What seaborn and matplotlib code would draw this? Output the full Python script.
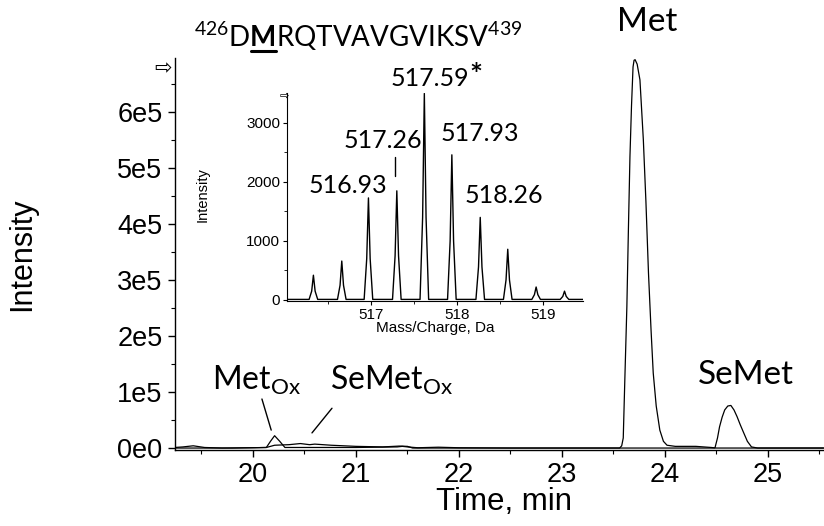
import numpy as np
import pandas as pd
import matplotlib
matplotlib.use("Agg")
import matplotlib.pyplot as plt
import seaborn as sns

# --- chromatogram (time in min, intensity in counts) ---
met_time = [19.24, 19.32, 19.42, 19.53, 19.70, 20.00, 20.13, 20.17, 20.21,
            20.26, 20.31, 20.50, 21.00, 21.40, 21.45, 21.50, 21.60, 21.80,
            22.00, 22.50, 23.00, 23.40, 23.56, 23.58, 23.595, 23.61, 23.63,
            23.645, 23.66, 23.675, 23.69, 23.70, 23.71, 23.73, 23.757, 23.79,
            23.815, 23.84, 23.865, 23.886, 23.915, 23.95, 23.985, 24.02,
            24.10, 24.30, 24.45, 24.50, 25.00, 25.54]
met_int = [1e3, 2e3, 4e3, 1e3, 0, 5e2, 1e3, 1.2e4, 2.2e4,
           1.2e4, 1e3, 1e3, 1e3, 2e3, 3e3, 2e3, 5e2, 1.5e3,
           5e2, 0, 0, 0, 0, 4e3, 1.8e4, 1.2e5, 2.52e5,
           3.9e5, 5.2e5, 6.1e5, 6.8e5, 6.92e5, 6.93e5, 6.85e5, 6.57e5, 5.5e5,
           4.4e5, 3.12e5, 2.1e5, 1.34e5, 7.5e4, 3.2e4, 1.2e4, 5e3,
           3e3, 3e3, 1e3, 0, 0, 0]

semet_time = [19.24, 19.80, 20.13, 20.21, 20.35, 20.46, 20.55, 20.60, 20.76,
              21.00, 21.26, 21.42, 21.50, 21.55, 22.00, 23.00, 24.00, 24.485,
              24.51, 24.53, 24.555, 24.58, 24.61, 24.64, 24.67, 24.70, 24.73,
              24.76, 24.80, 24.84, 24.90, 25.54]
semet_int = [0, 0, 1e3, 5e3, 6e3, 8e3, 6e3, 7e3, 5e3,
             3e3, 2e3, 3.5e3, 3e3, 0, 0, 0, 0, 0,
             1.8e4, 3.8e4, 5.5e4, 6.8e4, 7.5e4, 7.6e4, 6.8e4, 5.6e4, 4.2e4,
             2.9e4, 1.2e4, 2e3, 0, 0]

# --- inset mass spectrum profile ---
mz = [516.02, 516.28, 516.31, 516.33, 516.35, 516.38, 516.61, 516.64, 516.66,
      516.68, 516.71, 516.92, 516.95, 516.97, 516.99, 517.02, 517.25, 517.28,
      517.30, 517.32, 517.35, 517.57, 517.60, 517.62, 517.64, 517.67, 517.89,
      517.92, 517.94, 517.96, 517.99, 518.22, 518.25, 518.27, 518.29, 518.32,
      518.54, 518.57, 518.59, 518.61, 518.64, 518.87, 518.90, 518.92, 518.94,
      518.97, 519.20, 519.23, 519.25, 519.27, 519.30, 519.47]
mz_int = [10, 10, 150, 420, 150, 10, 10, 250, 660, 250, 10, 10, 700, 1730,
          700, 10, 10, 750, 1850, 750, 10, 10, 1400, 3500, 1400, 10, 10, 1000,
          2460, 1000, 10, 10, 560, 1400, 560, 10, 10, 340, 860, 340, 10, 10,
          90, 220, 90, 10, 10, 60, 150, 60, 10, 10]

main_yticks = [0, 1e5, 2e5, 3e5, 4e5, 5e5, 6e5]
main_ylabels = ["0e0", "1e5", "2e5", "3e5", "4e5", "5e5", "6e5"]
main_xticks = [20, 21, 22, 23, 24, 25]
inset_xticks = [517, 518, 519]
inset_yticks = [0, 1000, 2000, 3000]

peak_labels = ["516.93", "517.26", "517.59", "517.93", "518.26"]
peak_label_x = [516.733, 517.14, 517.686, 518.267, 518.547]
peak_label_y = [1932, 2695, 3746, 2814, 1763]

sns.set_theme(style="ticks")
plt.rcParams["font.family"] = ["Liberation Sans", "DejaVu Sans"]
plt.rcParams["mathtext.fontset"] = "custom"
plt.rcParams["mathtext.rm"] = "Lato"
plt.rcParams["mathtext.bf"] = "Lato:bold"
plt.rcParams["mathtext.it"] = "Lato:italic"
plt.rcParams["text.color"] = "black"
for k in ["xtick", "ytick"]:
    plt.rcParams[f"{k}.color"] = "black"
    plt.rcParams[f"{k}.labelcolor"] = "black"
    plt.rcParams[f"{k}.direction"] = "out"

W, H = 824, 526
fig = plt.figure(figsize=(W / 100, H / 100), dpi=100)
fig.patch.set_facecolor("white")


def fx(px):
    return px / W


def fy(py):
    return 1 - py / H


ax = fig.add_axes([fx(175), fy(450), fx(824) - fx(175), fy(58) - fy(450)])
sns.lineplot(x=met_time, y=met_int, ax=ax, color="black", lw=0.9,
             sort=False, estimator=None)
sns.lineplot(x=semet_time, y=semet_int, ax=ax, color="black", lw=0.9,
             sort=False, estimator=None)
ax.set_xlim(19.243, 25.544)
ax.set_ylim(-3500, 6.96e5)
ax.set_xticks(main_xticks)
ax.set_xticks(np.arange(19.5, 25.6, 1.0), minor=True)
ax.set_yticks(main_yticks, main_ylabels)
ax.set_yticks(np.arange(0.5e5, 6.6e5, 1e5), minor=True)
ax.tick_params(labelsize=19.5, width=1, length=5, pad=4)
ax.tick_params(which="minor", width=0.8, length=3)
sns.despine(ax=ax)
for s in ["left", "bottom"]:
    ax.spines[s].set_color("black")
    ax.spines[s].set_linewidth(1)
ax.set_xlabel("")
ax.set_ylabel("")
ax.set_facecolor("white")

fig.text(fx(22), fy(254), "Intensity", rotation=90, ha="center",
         va="center", fontsize=22)
fig.text(fx(504), fy(502), "Time, min", ha="center", va="center",
         fontsize=22.5)

lato = ["Lato", "DejaVu Sans"]
ax.text(23.825, 7.6e5, "Met", ha="center", va="center", fontsize=24,
        family=lato, clip_on=False)
ax.text(24.786, 1.30e5, "SeMet", ha="center", va="center", fontsize=24,
        family=lato)
ax.text(20.04, 1.21e5, r"Met$_{\mathrm{Ox}}$", ha="center", va="center",
        fontsize=23, family=lato)
ax.text(21.35, 1.21e5, r"SeMet$_{\mathrm{Ox}}$", ha="center", va="center",
        fontsize=23, family=lato)
ax.plot([20.087, 20.177], [0.875e5, 0.32e5], color="black", lw=1)
ax.plot([20.767, 20.573], [0.71e5, 0.27e5], color="black", lw=1)
fig.text(fx(163), fy(68), "\u21e8", ha="center", va="center", fontsize=15,
         family="DejaVu Sans")

# title with underlined bold M
title = r"$\mathrm{^{426}D\mathbf{M}RQTVAVGVIKSV^{439}}$"
tx, ty = fx(194), fy(47)
fs_title = 20
t = fig.text(tx, ty, title, ha="left", va="baseline", fontsize=fs_title)
pre = fig.text(tx, ty, r"$\mathrm{^{426}D}$", ha="left", va="baseline",
               fontsize=fs_title, alpha=0)
pm = fig.text(tx, ty, r"$\mathrm{^{426}D\mathbf{M}}$", ha="left",
              va="baseline", fontsize=fs_title, alpha=0)
r = fig.canvas.get_renderer()
x0 = pre.get_window_extent(r).x1
x1 = pm.get_window_extent(r).x1
fig.add_artist(plt.Line2D([x0 / W, x1 / W], [fy(51), fy(51)],
                          color="black", lw=2.2))

# inset spectrum
ins = fig.add_axes([fx(287), fy(301), fx(583) - fx(287), fy(93) - fy(301)])
sns.lineplot(x=mz, y=mz_int, ax=ins, color="black", lw=1.0, sort=False,
             estimator=None)
ins.set_xlim(516.023, 519.465)
ins.set_ylim(-17, 3508)
ins.set_xticks(inset_xticks)
ins.set_xticks([516.5, 517.5, 518.5], minor=True)
ins.set_yticks(inset_yticks)
ins.set_yticks([500, 1500, 2500], minor=True)
ins.tick_params(labelsize=11, width=0.8, length=3, pad=2)
ins.tick_params(which="minor", width=0.6, length=2)
sns.despine(ax=ins)
for s in ["left", "bottom"]:
    ins.spines[s].set_color("black")
    ins.spines[s].set_linewidth(0.8)
ins.set_xlabel("")
ins.set_ylabel("")
ins.patch.set_alpha(0)
fig.text(fx(203), fy(195), "Intensity", rotation=90, ha="center",
         va="center", fontsize=10.5)
fig.text(fx(435), fy(328), "Mass/Charge, Da", ha="center", va="center",
         fontsize=11)
fig.text(fx(284), fy(96), "\u21e8", ha="center", va="center", fontsize=8,
         family="DejaVu Sans")

for lab, lx, ly in zip(peak_labels, peak_label_x, peak_label_y):
    ins.text(lx, ly, lab, ha="center", va="center", fontsize=18,
             family=lato, clip_on=False)
ins.text(518.22, 3800, "*", ha="center", va="center", fontsize=22,
         family=lato, fontweight="bold", clip_on=False)
ins.plot([517.279, 517.279], [2424, 2102], color="black", lw=1)

fig.savefig("out.png", dpi=100, facecolor="white")
